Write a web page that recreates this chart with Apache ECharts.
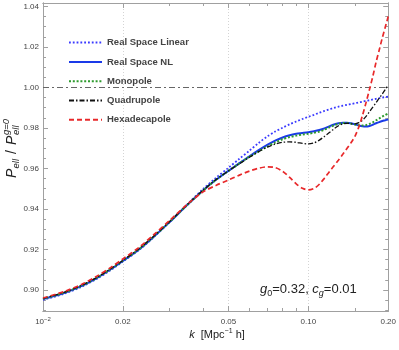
<!DOCTYPE html>
<html><head><meta charset="utf-8">
<script src="https://cdn.jsdelivr.net/npm/echarts@6/dist/echarts.min.js"></script>
<style>html,body{margin:0;padding:0;background:#fff}#c{width:399px;height:350px}</style>
</head><body><div id="c"></div>
<script>
// ---- data ----
const kValues = [0.01, 0.012, 0.014, 0.016, 0.018, 0.02, 0.023, 0.026, 0.03, 0.035, 0.04, 0.045, 0.05,
  0.055, 0.06, 0.065, 0.07, 0.075, 0.08, 0.085, 0.09, 0.095, 0.1, 0.105, 0.11, 0.115, 0.12, 0.125, 0.13,
  0.135, 0.14, 0.145, 0.15, 0.155, 0.16, 0.165, 0.17, 0.175, 0.18, 0.185, 0.19, 0.195, 0.2];
const realSpaceLinear = [0.8951, 0.8981, 0.9016, 0.9056, 0.9098, 0.9140, 0.9197, 0.9258, 0.9335, 0.9423, 0.9497, 0.9555, 0.9603,
  0.9648, 0.9688, 0.9726, 0.9758, 0.9782, 0.9801, 0.9818, 0.9832, 0.9844, 0.9855, 0.9865, 0.9875, 0.9884, 0.9892, 0.9899, 0.9905,
  0.9910, 0.9914, 0.9918, 0.9922, 0.9926, 0.9930, 0.9934, 0.9937, 0.9941, 0.9944, 0.9947, 0.9950, 0.9953, 0.9955];
const realSpaceNL = [0.8955, 0.8985, 0.9020, 0.9060, 0.9102, 0.9143, 0.9200, 0.9260, 0.9335, 0.9420, 0.9490, 0.9545, 0.9588,
  0.9626, 0.9660, 0.9690, 0.9716, 0.9737, 0.9753, 0.9764, 0.9771, 0.9775, 0.9779, 0.9784, 0.9790, 0.9798, 0.9808, 0.9817, 0.9823,
  0.9826, 0.9826, 0.9823, 0.9818, 0.9812, 0.9808, 0.9807, 0.9810, 0.9816, 0.9823, 0.9829, 0.9834, 0.9838, 0.9842];
const monopole = [0.8956, 0.8986, 0.9021, 0.9061, 0.9103, 0.9144, 0.9201, 0.9261, 0.9336, 0.9420, 0.9490, 0.9545, 0.9588,
  0.9625, 0.9658, 0.9684, 0.9708, 0.9728, 0.9744, 0.9755, 0.9762, 0.9767, 0.9771, 0.9776, 0.9782, 0.9792, 0.9803, 0.9813, 0.9820,
  0.9824, 0.9824, 0.9821, 0.9817, 0.9813, 0.9812, 0.9814, 0.9820, 0.9828, 0.9838, 0.9847, 0.9856, 0.9864, 0.9872];
const quadrupole = [0.8958, 0.8988, 0.9023, 0.9063, 0.9105, 0.9146, 0.9203, 0.9263, 0.9338, 0.9422, 0.9491, 0.9546, 0.9588,
  0.9623, 0.9655, 0.9683, 0.9705, 0.9720, 0.9729, 0.9731, 0.9729, 0.9724, 0.9721, 0.9726, 0.9740, 0.9758, 0.9777, 0.9796, 0.9811,
  0.9820, 0.9823, 0.9821, 0.9820, 0.9826, 0.9838, 0.9857, 0.9880, 0.9903, 0.9925, 0.9947, 0.9968, 0.9990, 1.0012];
const hexadecapole = [0.8960, 0.8992, 0.9028, 0.9069, 0.9111, 0.9153, 0.9210, 0.9270, 0.9343, 0.9423, 0.9483, 0.9517, 0.9543,
  0.9567, 0.9587, 0.9601, 0.9608, 0.9604, 0.9586, 0.9556, 0.9524, 0.9502, 0.9494, 0.9501, 0.9522, 0.9552, 0.9584, 0.9613, 0.9642,
  0.9671, 0.9700, 0.9728, 0.9760, 0.9805, 0.9862, 0.9925, 0.9990, 1.0055, 1.0125, 1.0185, 1.0245, 1.0298, 1.0350];
const referenceLevel = 1.0;

const seriesNames = ['Real Space Linear', 'Real Space NL', 'Monopole', 'Quadrupole', 'Hexadecapole'];
const xTickValues = [0.01, 0.02, 0.05, 0.1, 0.2];
const xTickLabels = ['10{sup|\u22122}', '0.02', '0.05', '0.10', '0.20'];
const xMinorTicks = [0.03, 0.04, 0.06, 0.07, 0.08, 0.09, 0.15];
const yTickValues = [0.90, 0.92, 0.94, 0.96, 0.98, 1.00, 1.02, 1.04];
const yMinorTicks = [0.890, 0.895, 0.905, 0.910, 0.915, 0.925, 0.930, 0.935, 0.945, 0.950, 0.955, 0.965, 0.970, 0.975,
  0.985, 0.990, 0.995, 1.005, 1.010, 1.015, 1.025, 1.030, 1.035];

// ---- chart ----
const FONT = '"Liberation Sans", Arial, sans-serif';
const frameColor = '#a0a0a0';
const xMin = 0.01, xMax = 0.2, yMin = 0.8896, yMax = 1.0417;

function fmtX(v) {
  for (let i = 0; i < xTickValues.length; i++) {
    if (Math.abs(v / xTickValues[i] - 1) < 1e-6) return xTickLabels[i];
  }
  return '';
}
function xAx(pos, ticks, len, labels, split) {
  return {
    type: 'log', logBase: 10, min: xMin, max: xMax, position: pos,
    axisLine: {show: true, onZero: false, lineStyle: {color: frameColor, width: 1}},
    axisTick: {show: true, inside: true, length: len, customValues: ticks, lineStyle: {color: frameColor, width: 1}},
    axisLabel: labels ? {
      show: true, customValues: xTickValues, formatter: fmtX, fontSize: 8, color: '#444', fontFamily: FONT,
      margin: 5, lineHeight: 12,
      rich: {sup: {fontSize: 6, lineHeight: 6, verticalAlign: 'top', color: '#444', fontFamily: FONT}}
    } : {show: false},
    splitLine: split ? {show: true, lineStyle: {color: '#d4d4d4', width: 1, type: [1, 2]}} : {show: false},
    minorTick: {show: false}, minorSplitLine: {show: false}
  };
}
function yAx(pos, ticks, len, labels) {
  return {
    type: 'value', min: yMin, max: yMax, position: pos,
    axisLine: {show: true, onZero: false, lineStyle: {color: frameColor, width: 1}},
    axisTick: {show: true, inside: true, length: len, customValues: ticks, lineStyle: {color: frameColor, width: 1}},
    axisLabel: labels ? {
      show: true, customValues: yTickValues, formatter: v => v.toFixed(2), fontSize: 8, color: '#444',
      fontFamily: FONT, margin: 4
    } : {show: false},
    splitLine: {show: false}
  };
}
function pairs(arr) { return kValues.map((k, i) => [k, arr[i]]); }

const styles = [
  {color: '#3a3aff', lineStyle: {width: 1.8, type: [1.8, 2.0], cap: 'butt'}},
  {color: '#1a3ae8', lineStyle: {width: 2}},
  {color: '#2e9a2e', lineStyle: {width: 2, type: [2, 1.8], cap: 'butt'}},
  {color: '#111111', lineStyle: {width: 1.3, type: [5, 2, 1.5, 2]}},
  {color: '#e8282a', lineStyle: {width: 1.7, type: [5, 3]}}
];
const dataSets = [realSpaceLinear, realSpaceNL, monopole, quadrupole, hexadecapole];

const series = dataSets.map((d, i) => ({
  name: seriesNames[i], type: 'line', data: pairs(d), xAxisIndex: 0, yAxisIndex: 0,
  showSymbol: false, symbol: 'none', smooth: 0.3, clip: true, z: 3 + i,
  color: styles[i].color,
  lineStyle: Object.assign({color: styles[i].color}, styles[i].lineStyle)
}));
series[0].markLine = {
  symbol: 'none', silent: true, label: {show: false}, animation: false,
  lineStyle: {color: '#666', width: 1, type: [6, 3, 2, 3]},
  data: [{yAxis: referenceLevel}]
};

const chart = echarts.init(document.getElementById('c'), null, {renderer: 'canvas'});
chart.setOption({
  animation: false,
  backgroundColor: '#fff',
  grid: {left: 43, right: 8, top: 3, bottom: 39, containLabel: false},
  xAxis: [
    xAx('bottom', xTickValues, 5, true, true),
    xAx('bottom', xMinorTicks, 3, false, false),
    xAx('top', xTickValues, 5, false, false),
    xAx('top', xMinorTicks, 3, false, false)
  ],
  yAxis: [
    yAx('left', yTickValues, 5, true),
    yAx('left', yMinorTicks, 3, false),
    yAx('right', yTickValues, 5, false),
    yAx('right', yMinorTicks, 3, false)
  ],
  legend: {
    orient: 'vertical', left: 68, top: 37, padding: 0, itemGap: 8.1,
    itemWidth: 33, itemHeight: 14, selectedMode: false,
    itemStyle: {opacity: 0},
    data: seriesNames,
    textStyle: {fontSize: 9.5, fontWeight: 'bold', color: '#444', fontFamily: FONT}
  },
  graphic: [
    {
      type: 'text', x: 260, y: 289, silent: true,
      style: {
        text: '{i|g}{sub|0}=0.32, {i|c}{subi|g}=0.01',
        fontSize: 13, fontFamily: FONT, fill: '#222', verticalAlign: 'middle', lineHeight: 18,
        rich: {
          i: {fontStyle: 'italic', fontSize: 13, fontFamily: FONT, fill: '#222'},
          sub: {fontSize: 9, lineHeight: 11, verticalAlign: 'bottom', fontFamily: FONT, fill: '#222'},
          subi: {fontSize: 9, lineHeight: 11, verticalAlign: 'bottom', fontStyle: 'italic', fontFamily: FONT, fill: '#222'}
        }
      }
    },
    {
      type: 'text', x: 217, y: 335, silent: true,
      style: {
        text: '{i|k}  [Mpc{sup|\u22121} h]',
        fontSize: 11, fontFamily: FONT, fill: '#222', align: 'center', verticalAlign: 'middle', lineHeight: 15,
        rich: {
          i: {fontStyle: 'italic', fontSize: 11, fontFamily: FONT, fill: '#222'},
          sup: {fontSize: 7, lineHeight: 8, verticalAlign: 'top', fontFamily: FONT, fill: '#222'}
        }
      }
    },
    {
      type: 'group', x: 12, y: 140, rotation: Math.PI / 2, silent: true,
      children: [
        {type: 'text', x: -38, y: 0, style: {text: 'P', font: 'italic 14px ' + FONT, fill: '#222', verticalAlign: 'middle'}},
        {type: 'text', x: -28.5, y: 4.5, style: {text: 'ell', font: 'italic 9.5px ' + FONT, fill: '#222', verticalAlign: 'middle'}},
        {type: 'text', x: -14, y: 0, style: {text: '/', font: '14px ' + FONT, fill: '#222', verticalAlign: 'middle'}},
        {type: 'text', x: -5, y: 0, style: {text: 'P', font: 'italic 14px ' + FONT, fill: '#222', verticalAlign: 'middle'}},
        {type: 'text', x: 5, y: -6, style: {text: 'g=0', font: 'italic 9.5px ' + FONT, fill: '#222', verticalAlign: 'middle'}},
        {type: 'text', x: 5, y: 4.5, style: {text: 'ell', font: 'italic 9.5px ' + FONT, fill: '#222', verticalAlign: 'middle'}}
      ]
    }
  ],
  series: series
});
</script></body></html>
